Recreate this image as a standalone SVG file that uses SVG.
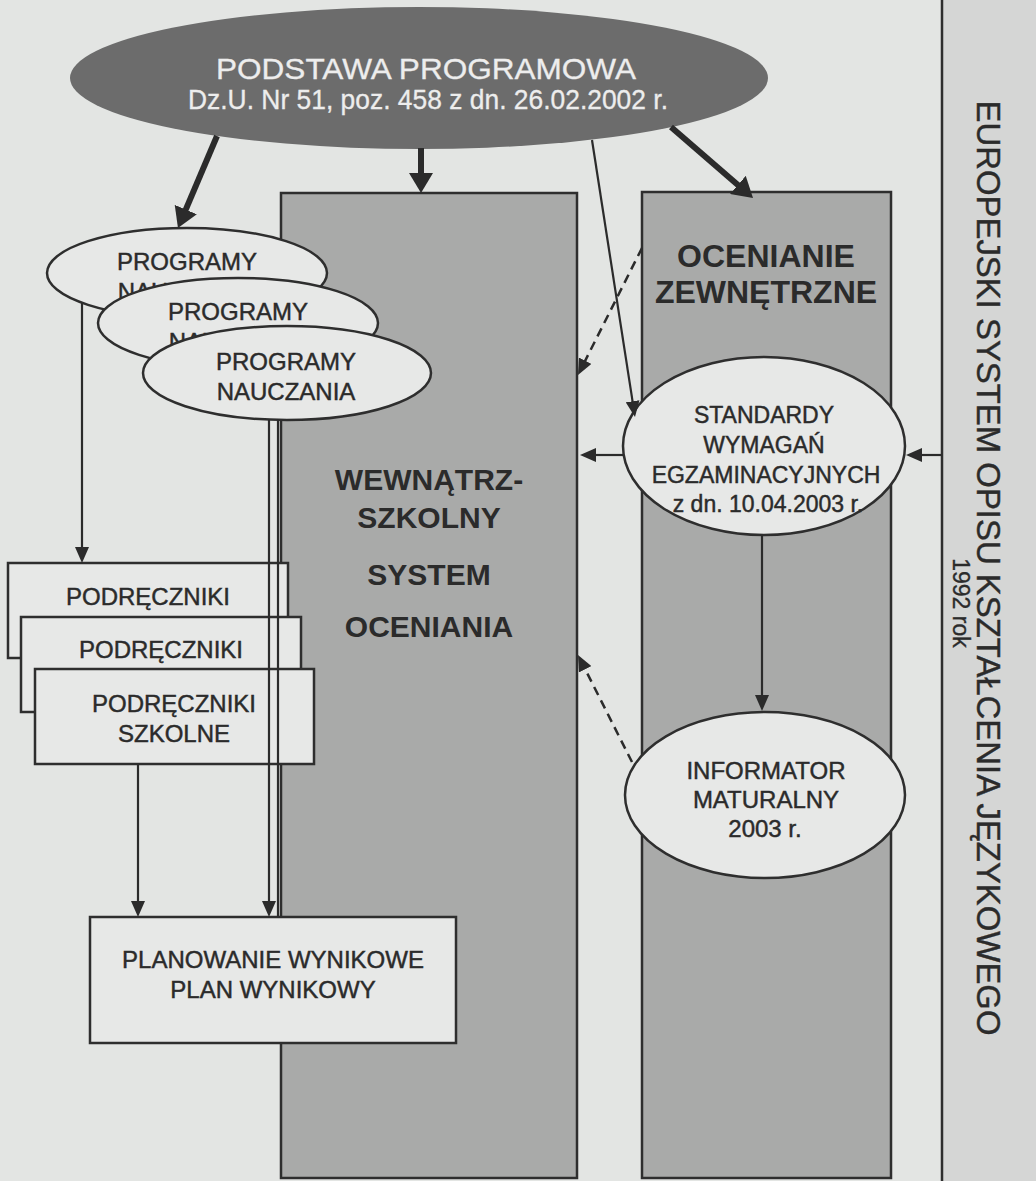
<svg xmlns="http://www.w3.org/2000/svg" width="1036" height="1181" viewBox="0 0 1036 1181">
<style>
text{font-family:"Liberation Sans",Arial,sans-serif;fill:#2b2b2b;text-anchor:middle}
.lbl{font-size:24px;stroke:#2b2b2b;stroke-width:0.45}
.big{font-size:31px;font-weight:bold}
.top{fill:#ededed;stroke:#ededed;stroke-width:0.3}
.box{fill:#e7e8e7;stroke:#2e2e2e;stroke-width:2.5}
.col{fill:#a9aaa9;stroke:#2e2e2e;stroke-width:2.5}
.thick{stroke:#2b2b2b;stroke-width:6;fill:none}
.thin{stroke:#2b2b2b;stroke-width:2.2;fill:none}
.dash{stroke:#2b2b2b;stroke-width:2.5;fill:none;stroke-dasharray:9 6}
</style>
<defs>
<marker id="ah" markerUnits="userSpaceOnUse" markerWidth="20" markerHeight="24" refX="2" refY="12" orient="auto" viewBox="0 0 20 24"><path d="M0,0 L20,12 L0,24 Z" fill="#2b2b2b"/></marker>
<marker id="as" markerUnits="userSpaceOnUse" markerWidth="16" markerHeight="14" refX="1" refY="7" orient="auto" viewBox="0 0 16 14"><path d="M0,0 L16,7 L0,14 Z" fill="#2b2b2b"/></marker>
</defs>
<rect x="0" y="0" width="1036" height="1181" fill="#e3e5e3"/>

<g id="europejski">
<rect x="942" y="-2" width="96" height="1185" fill="#d5d6d5" stroke="#2e2e2e" stroke-width="2.5"/>
<text transform="translate(977,568) rotate(90)" style="font-size:33px;stroke:#2b2b2b;stroke-width:0.4" textLength="935" lengthAdjust="spacingAndGlyphs">EUROPEJSKI SYSTEM OPISU KSZTAŁCENIA JĘZYKOWEGO</text>
<text transform="translate(953,603) rotate(90)" style="font-size:23px;stroke:#2b2b2b;stroke-width:0.35">1992 rok</text>
</g>

<g id="wewnatrzszkolny">
<rect class="col" x="281" y="193" width="296" height="985"/>
<text class="big" x="429" y="490" style="font-size:30px">WEWNĄTRZ-</text>
<text class="big" x="429" y="528" style="font-size:30px">SZKOLNY</text>
<text class="big" x="429" y="585" style="font-size:30px">SYSTEM</text>
<text class="big" x="429" y="637" style="font-size:30px">OCENIANIA</text>
</g>

<g id="ocenianie">
<rect class="col" x="642" y="192" width="249" height="986"/>
<text class="big" x="766" y="267" style="font-size:32px">OCENIANIE</text>
<text class="big" x="766" y="303" style="font-size:32px">ZEWNĘTRZNE</text>
</g>

<g id="podstawa">
<ellipse cx="419" cy="78" rx="349" ry="71" fill="#6c6c6c"/>
<text class="top" x="426" y="79" style="font-size:30px" textLength="420" lengthAdjust="spacingAndGlyphs">PODSTAWA PROGRAMOWA</text>
<text class="top" x="428" y="109" style="font-size:27px" textLength="480" lengthAdjust="spacingAndGlyphs">Dz.U. Nr 51, poz. 458 z dn. 26.02.2002 r.</text>
</g>

<g id="programy1">
<ellipse class="box" cx="187" cy="273" rx="140" ry="45"/>
<text class="lbl" x="187" y="270">PROGRAMY</text>
<text class="lbl" x="187" y="300">NAUCZANIA</text>
</g>
<g id="programy2">
<ellipse class="box" cx="238" cy="323" rx="140" ry="45"/>
<text class="lbl" x="238" y="320">PROGRAMY</text>
<text class="lbl" x="238" y="350">NAUCZANIA</text>
</g>
<g id="programy3">
<ellipse class="box" cx="287" cy="373" rx="144" ry="47"/>
<text class="lbl" x="286" y="370">PROGRAMY</text>
<text class="lbl" x="286" y="400">NAUCZANIA</text>
</g>

<g id="podreczniki1">
<rect class="box" x="8" y="563" width="280" height="95"/>
<text class="lbl" x="148" y="605">PODRĘCZNIKI</text>
</g>
<g id="podreczniki2">
<rect class="box" x="21" y="617" width="280" height="95"/>
<text class="lbl" x="161" y="658">PODRĘCZNIKI</text>
</g>
<g id="podreczniki3">
<rect class="box" x="35" y="669" width="279" height="95"/>
<text class="lbl" x="174" y="712">PODRĘCZNIKI</text>
<text class="lbl" x="174" y="742">SZKOLNE</text>
</g>

<g id="planowanie">
<rect class="box" x="90" y="917" width="366" height="126"/>
<text class="lbl" x="273" y="968">PLANOWANIE WYNIKOWE</text>
<text class="lbl" x="273" y="998">PLAN WYNIKOWY</text>
</g>

<g id="standardy">
<ellipse class="box" cx="764" cy="446" rx="141" ry="89"/>
<text class="lbl" x="764" y="423" style="font-size:23px">STANDARDY</text>
<text class="lbl" x="764" y="453" style="font-size:23px">WYMAGAŃ</text>
<text class="lbl" x="766" y="483" style="font-size:23px">EGZAMINACYJNYCH</text>
<text class="lbl" x="768" y="512" style="font-size:23px">z dn. 10.04.2003 r.</text>
</g>

<g id="informator">
<ellipse class="box" cx="765" cy="795" rx="140" ry="83"/>
<text class="lbl" x="766" y="779">INFORMATOR</text>
<text class="lbl" x="766" y="808">MATURALNY</text>
<text class="lbl" x="765" y="837">2003 r.</text>
</g>

<g id="connectors">
<line class="thick" x1="217" y1="136" x2="185" y2="211.4" marker-end="url(#ah)"/>
<line class="thick" x1="421" y1="148" x2="421" y2="175" marker-end="url(#ah)"/>
<line class="thick" x1="671" y1="127" x2="739.4" y2="186.2" marker-end="url(#ah)"/>
<line class="thin" x1="592" y1="140" x2="632.7" y2="402.2" marker-end="url(#as)"/>
<line class="thin" x1="82" y1="303" x2="82" y2="548" marker-end="url(#as)"/>
<line class="thin" x1="269" y1="420" x2="269" y2="902" marker-end="url(#as)"/>
<line class="thin" x1="278" y1="419" x2="278" y2="917"/>
<line class="thin" x1="138" y1="764" x2="138" y2="902" marker-end="url(#as)"/>
<line class="thin" x1="623" y1="455" x2="595" y2="455" marker-end="url(#as)"/>
<line class="thin" x1="942" y1="455" x2="921" y2="455" marker-end="url(#as)"/>
<line class="thin" x1="762" y1="535" x2="762" y2="696" marker-end="url(#as)"/>
<line class="dash" x1="642" y1="248" x2="584.75" y2="361.6" marker-end="url(#as)"/>
<line class="dash" x1="632" y1="762" x2="584.75" y2="668.4" marker-end="url(#as)"/>
</g>
</svg>
